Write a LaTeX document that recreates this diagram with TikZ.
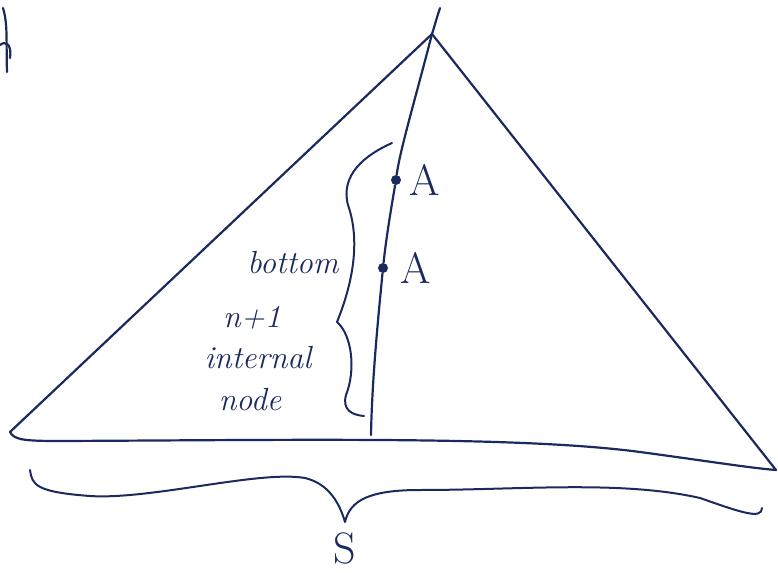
\documentclass[tikz,border=0pt]{standalone}
\usetikzlibrary{positioning}
\definecolor{ink}{HTML}{1B2A5E}
\tikzset{
  pen/.style={draw=ink, line width=1.1pt, line cap=round, line join=round},
  scrawl/.style={text=ink, font=\itshape\fontsize{16}{18}\selectfont, inner sep=0pt, align=left},
  bigletter/.style={text=ink, font=\fontsize{22}{24}\selectfont, inner sep=0pt},
  dotmark/.style={circle, fill=ink, inner sep=0pt, minimum size=5pt}
}
\begin{document}
\begin{tikzpicture}[x=0.5pt,y=-0.5pt]
  \useasboundingbox (0,0) rectangle (778,573);

  % corners of the tree
  \coordinate (top) at (440,8);
  \coordinate (apex) at (432,34);
  \coordinate (lcorner) at (10,432);
  \coordinate (rcorner) at (776,470);
  \coordinate (spineend) at (371,435);

  % the two A nodes on the path
  \node[dotmark] (a1) at (396,180) {};
  \node[dotmark] (a2) at (383,268) {};
  \node[bigletter, right=4pt of a1] (a1lab) {A};
  \node[bigletter, right=6pt of a2] (a2lab) {A};

  % triangle
  \draw[pen] (apex) -- (lcorner)
    .. controls (14,440) and (25,441) .. (60,441)
    .. controls (300,440) and (520,436) .. (640,452)
    .. controls (700,460) and (750,468) .. (rcorner)
    -- (apex);

  % path from the root down
  \draw[pen] (top) .. controls (436,20) and (434,28) .. (apex)
    .. controls (415,100) and (400,150) .. (a1)
    .. controls (390,215) and (386,240) .. (a2)
    .. controls (378,320) and (372,380) .. (spineend);

  % brace over the bottom part
  \coordinate (bt) at (392,143);
  \coordinate (bm) at (337,322);
  \coordinate (bb) at (364,416);
  \draw[pen, line width=1pt] (bt) .. controls (365,155) and (340,175) .. (348,205)
    .. controls (362,245) and (350,290) .. (bm)
    .. controls (352,335) and (356,370) .. (346,395)
    .. controls (342,410) and (352,415) .. (bb);

  \node[scrawl] (bottomtxt) at (293,263) {bottom};
  \node[scrawl] (nlab) at (252,318) {n+1};
  \node[scrawl] (internal) at (258,358) {internal};
  \node[scrawl] (nodetxt) at (250,400) {node};

  % brace under the whole tree
  \coordinate (sl) at (30,470);
  \coordinate (stip) at (345,522);
  \coordinate (sr) at (762,508);
  \draw[pen, line width=1pt] (sl) .. controls (32,485) and (36,492) .. (90,496)
    .. controls (150,500) and (260,470) .. (305,478)
    .. controls (330,484) and (340,505) .. (stip)
    .. controls (350,500) and (370,490) .. (420,490)
    .. controls (520,490) and (620,480) .. (700,498)
    .. controls (740,512) and (762,520) .. (sr);
  \node[bigletter] (slab) at (345,548) {S};

  % cut off mark at the corner
  \draw[pen] (3,8) .. controls (8,25) and (6,40) .. (7,72);
  \draw[pen] (0,45) .. controls (6,40) and (12,45) .. (10,58);
\end{tikzpicture}
\end{document}
